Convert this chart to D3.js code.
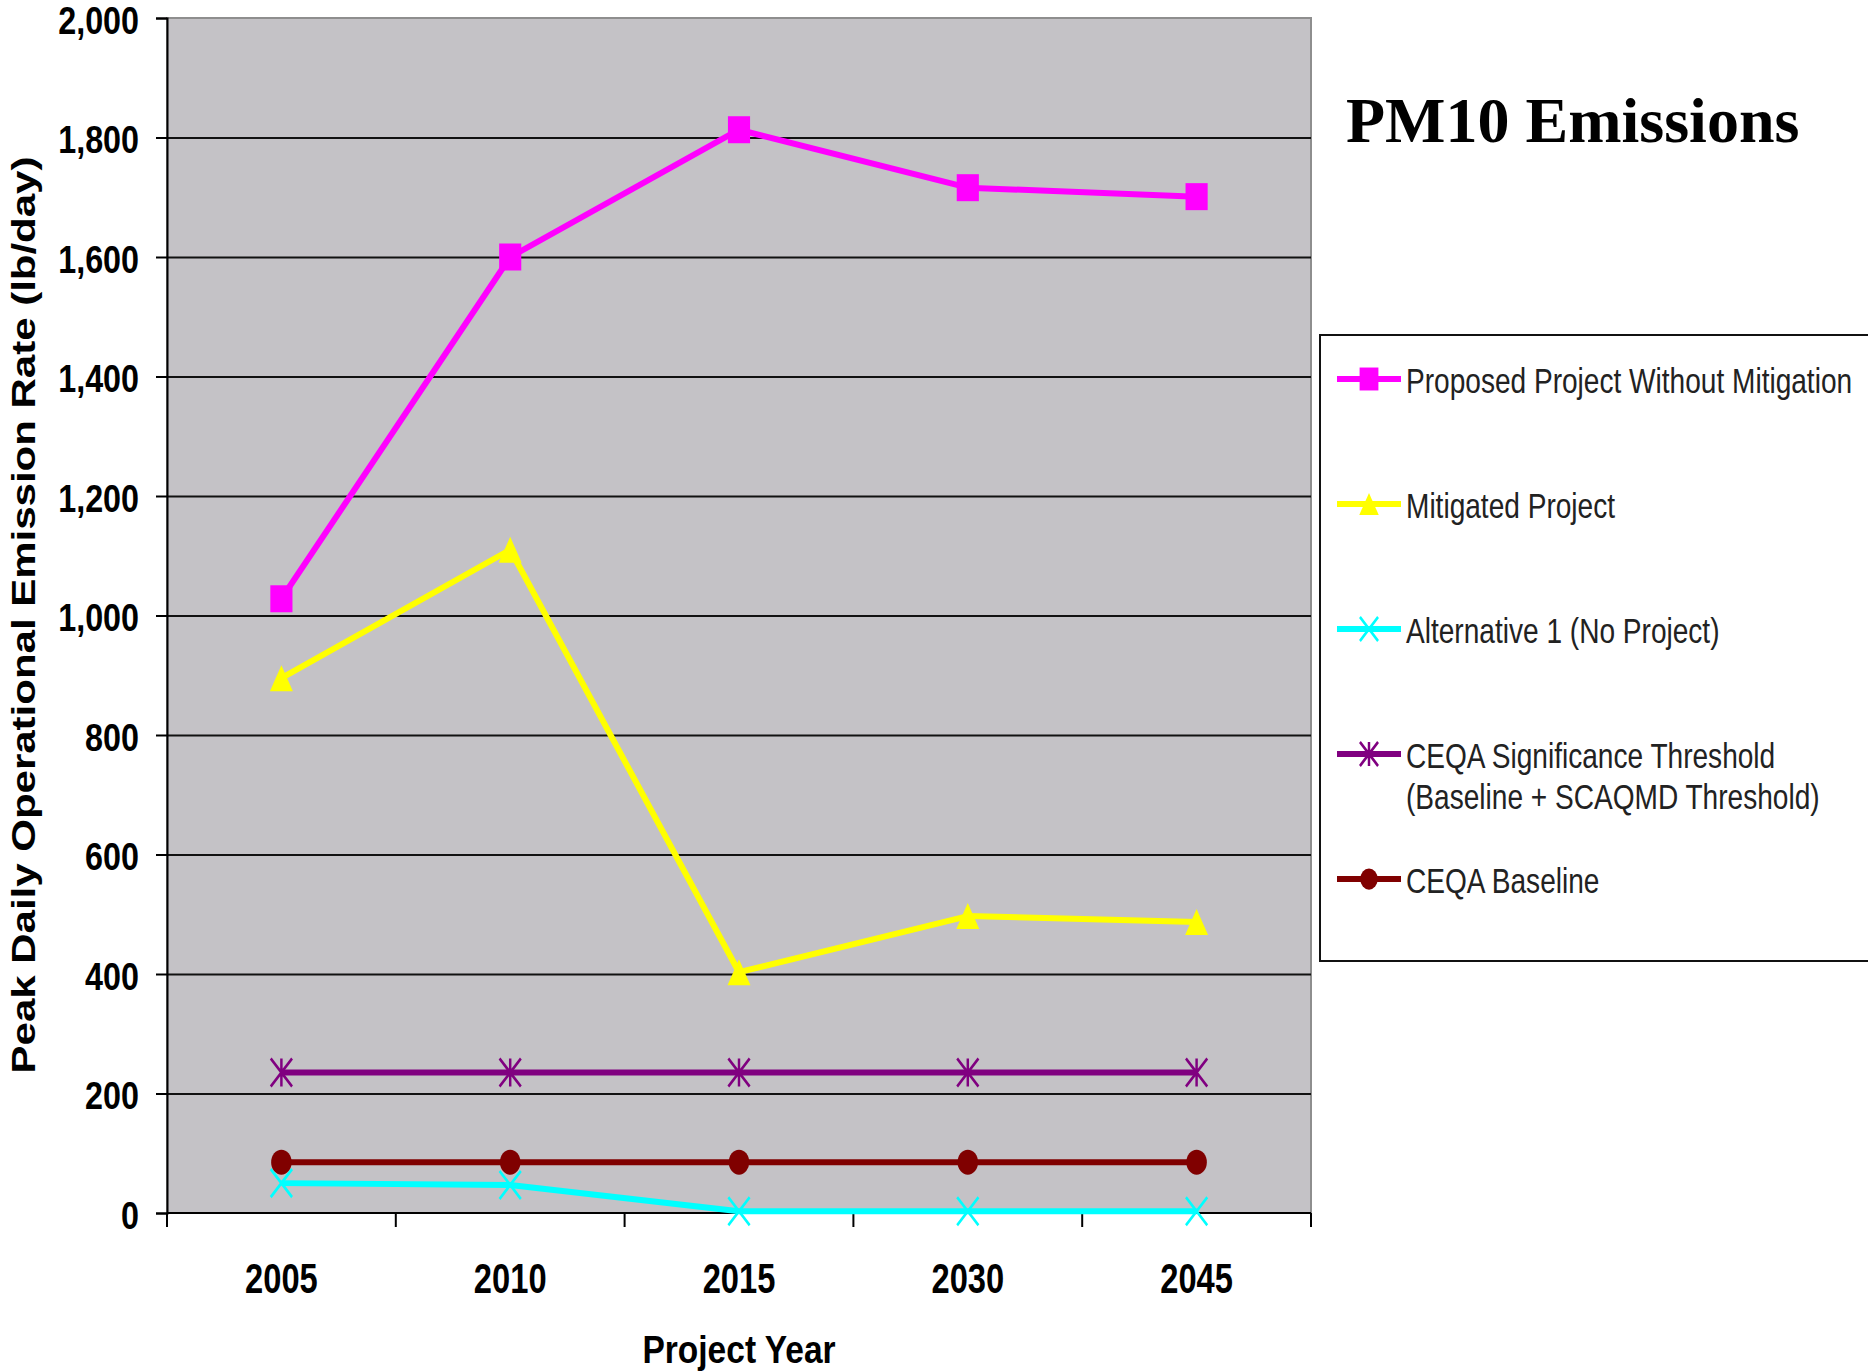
<!DOCTYPE html>
<html>
<head>
<meta charset="utf-8">
<script src="https://cdn.jsdelivr.net/npm/d3@7"></script>
<style>
  body { margin: 0; background: #fff; }
  svg { display: block; }
</style>
</head>
<body>
<div id="chart"></div>
<script>
// Data
const years = ['2005', '2010', '2015', '2030', '2045'];
const proposed = [1028, 1600, 1813, 1716, 1701];
const mitigated = [895, 1110, 403, 497, 487];
const alternative1 = [50, 47, 3, 3, 3];
const threshold = [235, 235, 235, 235, 235];
const baseline = [85, 85, 85, 85, 85];
const yTicks = [0, 200, 400, 600, 800, 1000, 1200, 1400, 1600, 1800, 2000];

const series = [
  { label: ['Proposed Project Without Mitigation'], values: proposed, color: '#ff00ff', marker: 'square' },
  { label: ['Mitigated Project'], values: mitigated, color: '#ffff00', marker: 'triangle' },
  { label: ['Alternative 1 (No Project)'], values: alternative1, color: '#00ffff', marker: 'x' },
  { label: ['CEQA Significance Threshold', '(Baseline + SCAQMD Threshold)'], values: threshold, color: '#800080', marker: 'asterisk' },
  { label: ['CEQA Baseline'], values: baseline, color: '#800000', marker: 'circle' }
];

const plot = { left: 167, right: 1311, top: 18, bottom: 1213 };
const sans = 'Liberation Sans, Arial, Helvetica, sans-serif';

const svg = d3.select('#chart').append('svg')
  .attr('width', 1868)
  .attr('height', 1372);

const x = d3.scaleBand().domain(years).range([plot.left, plot.right]);
const y = d3.scaleLinear().domain([0, 2000]).range([plot.bottom, plot.top]);
const cx = d => x(d) + x.bandwidth() / 2;

// Plot area
svg.append('rect')
  .attr('x', plot.left)
  .attr('y', plot.top)
  .attr('width', plot.right - plot.left)
  .attr('height', plot.bottom - plot.top)
  .attr('fill', '#c4c2c6')
  .attr('stroke', '#8e8e8e')
  .attr('stroke-width', 2);

// Grid lines
svg.append('g')
  .attr('transform', `translate(${plot.left},0)`)
  .call(d3.axisLeft(y).tickValues(yTicks.slice(1, -1)).tickSize(-(plot.right - plot.left)).tickFormat(''))
  .call(g => g.select('.domain').remove())
  .selectAll('line')
  .attr('stroke', '#111')
  .attr('stroke-width', 2);

// Y axis
const yAxis = svg.append('g')
  .attr('transform', `translate(${plot.left},0)`)
  .call(d3.axisLeft(y).tickValues(yTicks).tickSize(11).tickFormat(d3.format(',')));
yAxis.select('.domain').attr('stroke', '#000').attr('stroke-width', 2);
yAxis.selectAll('.tick line').attr('stroke', '#000').attr('stroke-width', 2);
yAxis.selectAll('.tick text')
  .attr('x', null)
  .attr('dy', null)
  .attr('transform', 'translate(-28,15) scale(0.85,1)')
  .attr('font-family', sans)
  .attr('font-size', 38)
  .attr('font-weight', 'bold')
  .attr('fill', '#000');

// X axis: line, ticks between categories, labels
svg.append('line')
  .attr('x1', plot.left).attr('x2', plot.right)
  .attr('y1', y(0)).attr('y2', y(0))
  .attr('stroke', '#000').attr('stroke-width', 2);

const bounds = years.map(d => x(d)).concat(x.range()[1]);
svg.append('g').selectAll('line')
  .data(bounds)
  .enter()
  .append('line')
  .attr('x1', d => d).attr('x2', d => d)
  .attr('y1', y(0)).attr('y2', y(0) + 14)
  .attr('stroke', '#000').attr('stroke-width', 2);

svg.append('g').selectAll('text')
  .data(years)
  .enter()
  .append('text')
  .attr('transform', d => `translate(${cx(d)},1293) scale(0.76,1)`)
  .attr('text-anchor', 'middle')
  .attr('font-family', sans)
  .attr('font-size', 43)
  .attr('font-weight', 'bold')
  .text(d => d);

// Axis titles
svg.append('text')
  .attr('transform', 'translate(739,1363) scale(0.86,1)')
  .attr('text-anchor', 'middle')
  .attr('font-family', sans)
  .attr('font-size', 39)
  .attr('font-weight', 'bold')
  .text('Project Year');

svg.append('text')
  .attr('transform', 'translate(35,615) scale(0.8,1) rotate(-90)')
  .attr('text-anchor', 'middle')
  .attr('font-family', sans)
  .attr('font-size', 42)
  .attr('font-weight', 'bold')
  .text('Peak Daily Operational Emission Rate (lb/day)');

// Markers
function markerPath(type, k) {
  const p = d3.path();
  if (type === 'square') {
    const h = 13.5 * k;
    p.rect(-h, -h, 2 * h, 2 * h);
  } else if (type === 'triangle') {
    const w = 14 * k, h = 13 * k;
    p.moveTo(0, -h); p.lineTo(w, h); p.lineTo(-w, h); p.closePath();
  } else if (type === 'circle') {
    p.arc(0, 0, 12.5 * k, 0, 2 * Math.PI);
  } else {
    const h = 13 * k, v = 14 * k;
    p.moveTo(-h, -v); p.lineTo(h, v);
    p.moveTo(h, -v); p.lineTo(-h, v);
    if (type === 'asterisk') { p.moveTo(0, -v); p.lineTo(0, v); }
  }
  return p.toString();
}
const filled = t => t === 'square' || t === 'triangle' || t === 'circle';

function drawMarker(sel, s, k) {
  sel.append('path')
    .attr('d', markerPath(s.marker, k))
    .attr('fill', filled(s.marker) ? s.color : 'none')
    .attr('stroke', s.color)
    .attr('stroke-width', filled(s.marker) ? 0 : 3);
}

const line = d3.line()
  .x((d, i) => cx(years[i]))
  .y(d => y(d));

series.forEach(s => {
  const g = svg.append('g');
  g.append('path')
    .attr('d', line(s.values))
    .attr('fill', 'none')
    .attr('stroke', s.color)
    .attr('stroke-width', 6)
    .attr('stroke-linejoin', 'round');
  s.values.forEach((v, i) => {
    const m = g.append('g').attr('transform', `translate(${cx(years[i])},${y(v)}) scale(0.82,1)`);
    drawMarker(m, s, 1);
  });
});

// Title
svg.append('text')
  .attr('x', 1346)
  .attr('y', 142)
  .attr('font-family', 'Liberation Serif, Times New Roman, serif')
  .attr('font-size', 64)
  .attr('font-weight', 'bold')
  .text('PM10 Emissions');

// Legend
const legend = svg.append('g');
legend.append('rect')
  .attr('x', 1320).attr('y', 335)
  .attr('width', 570).attr('height', 626)
  .attr('fill', '#fff')
  .attr('stroke', '#111')
  .attr('stroke-width', 2);

const key = legend.selectAll('.key')
  .data(series)
  .enter()
  .append('g')
  .attr('class', 'key')
  .attr('transform', (d, i) => `translate(0,${379 + i * 125})`);

key.append('line')
  .attr('x1', 1337).attr('x2', 1401)
  .attr('y1', 0).attr('y2', 0)
  .attr('stroke', d => d.color)
  .attr('stroke-width', 6);

key.each(function(d) {
  const m = d3.select(this).append('g').attr('transform', 'translate(1369,0) scale(0.82,1)');
  drawMarker(m, d, 0.85);
});

key.each(function(d) {
  d3.select(this).selectAll('text')
    .data(d.label)
    .enter()
    .append('text')
    .attr('transform', (t, j) => `translate(1406,${14 + j * 41}) scale(0.78,1)`)
    .attr('font-family', sans)
    .attr('font-size', 36)
    .attr('fill', '#222')
    .text(t => t);
});
</script>
</body>
</html>
